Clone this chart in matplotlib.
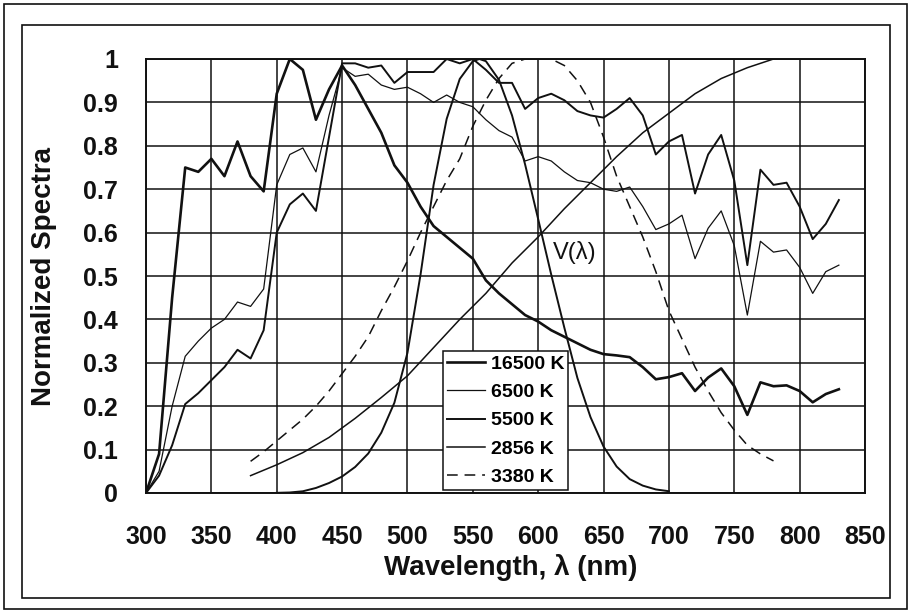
"""
Normalized spectra of several light sources (16500 K, 6500 K, 5500 K,
2856 K, 3380 K) together with the photopic luminosity function V(lambda).
"""

import matplotlib
matplotlib.use('Agg')
import matplotlib.pyplot as plt
from matplotlib.patches import Rectangle

plt.rcParams['font.family'] = ['Liberation Sans', 'DejaVu Sans']

# Wavelength grid (nm) of the daylight-type spectra
WL_FULL = list(range(300, 840, 10))

SPEC_16500 = [0.0, 0.09, 0.45, 0.75, 0.74, 0.77, 0.73, 0.81, 0.73, 0.695,
              0.92, 1.0, 0.975, 0.86, 0.93, 0.985, 0.94, 0.885, 0.83, 0.755,
              0.715, 0.66, 0.615, 0.59, 0.565, 0.54, 0.49, 0.46, 0.435, 0.41,
              0.395, 0.375, 0.36, 0.345, 0.33, 0.32, 0.317, 0.313, 0.29, 0.262,
              0.267, 0.276, 0.235, 0.266, 0.287, 0.246, 0.18, 0.255, 0.246, 0.248,
              0.235, 0.209, 0.228, 0.239]

SPEC_6500 = [0.0, 0.05, 0.2, 0.315, 0.35, 0.38, 0.40, 0.44, 0.43, 0.47,
             0.71, 0.78, 0.795, 0.74, 0.87, 0.98, 0.96, 0.965, 0.94, 0.93,
             0.935, 0.92, 0.90, 0.917, 0.90, 0.89, 0.86, 0.835, 0.82, 0.765,
             0.775, 0.765, 0.74, 0.72, 0.715, 0.70, 0.695, 0.705, 0.66, 0.607,
             0.62, 0.64, 0.54, 0.61, 0.65, 0.57, 0.41, 0.58, 0.555, 0.56,
             0.52, 0.46, 0.51, 0.525]

SPEC_5500 = [0.0, 0.04, 0.11, 0.205, 0.23, 0.26, 0.29, 0.33, 0.31, 0.375,
             0.60, 0.665, 0.69, 0.65, 0.82, 0.99, 0.99, 0.98, 0.985, 0.945,
             0.97, 0.97, 0.97, 1.0, 0.99, 1.0, 0.975, 0.945, 0.945, 0.885,
             0.91, 0.92, 0.905, 0.88, 0.87, 0.865, 0.885, 0.91, 0.87, 0.78,
             0.81, 0.825, 0.69, 0.78, 0.825, 0.72, 0.525, 0.745, 0.71, 0.715,
             0.66, 0.585, 0.62, 0.675]

WL_2856 = list(range(380, 800, 20))
SPEC_2856 = [0.04, 0.065, 0.093, 0.128, 0.172, 0.22, 0.27, 0.335, 0.40, 0.46,
             0.53, 0.59, 0.655, 0.715, 0.775, 0.83, 0.875, 0.92, 0.955, 0.98, 1.0]

WL_3380 = list(range(380, 790, 10))
SPEC_3380 = [0.073, 0.095, 0.12, 0.145, 0.17, 0.2, 0.235, 0.275, 0.315, 0.36,
             0.42, 0.475, 0.535, 0.6, 0.66, 0.72, 0.77, 0.845, 0.905, 0.955,
             0.99, 1.0, 1.0, 1.0, 0.985, 0.95, 0.9, 0.82, 0.73, 0.66,
             0.59, 0.51, 0.42, 0.355, 0.29, 0.235, 0.185, 0.145, 0.11, 0.09, 0.074]

WL_V = [400, 410, 420, 430, 440, 450, 460, 470, 480, 490, 500, 510, 520, 530,
        540, 550, 555, 560, 570, 580, 590, 600, 610, 620, 630, 640, 650, 660,
        670, 680, 690, 700]
V_LAMBDA = [0.0004, 0.0012, 0.004, 0.0116, 0.023, 0.038, 0.06, 0.091, 0.139,
            0.208, 0.323, 0.503, 0.71, 0.862, 0.954, 0.995, 1.0, 0.995, 0.952,
            0.87, 0.757, 0.631, 0.503, 0.381, 0.265, 0.175, 0.107, 0.061, 0.032,
            0.017, 0.0082, 0.0041]

X_TICKS = list(range(300, 900, 50))
Y_TICKS = [0, 0.1, 0.2, 0.3, 0.4, 0.5, 0.6, 0.7, 0.8, 0.9, 1]
Y_TICK_LABELS = ["0", "0.1", "0.2", "0.3", "0.4", "0.5", "0.6", "0.7", "0.8", "0.9", "1"]

W, H = 912, 614
INK = "#111111"


def main() -> None:
    fig = plt.figure(figsize=(W / 100, H / 100), dpi=100)
    fig.patch.set_facecolor("white")

    # outer and inner border of the scanned figure
    fig.patches.append(Rectangle((4 / W, 1 - 609 / H), 903 / W, 605 / H,
                                 transform=fig.transFigure, fill=False,
                                 edgecolor=INK, linewidth=1.2))
    fig.patches.append(Rectangle((22 / W, 1 - 598 / H), 868 / W, 573 / H,
                                 transform=fig.transFigure, fill=False,
                                 edgecolor=INK, linewidth=1.2))

    ax = fig.add_axes([146 / W, 1 - 493 / H, (865 - 146) / W, (493 - 59) / H])

    ax.plot(WL_FULL, SPEC_16500, color=INK, linewidth=1.9, label="16500 K")
    ax.plot(WL_FULL, SPEC_6500, color=INK, linewidth=0.9, label="6500 K")
    ax.plot(WL_FULL, SPEC_5500, color=INK, linewidth=1.4, label="5500 K")
    ax.plot(WL_2856, SPEC_2856, color=INK, linewidth=1.1, label="2856 K")
    ax.plot(WL_3380, SPEC_3380, color=INK, linewidth=1.1, dashes=(7, 4.5),
            label="3380 K")
    ax.plot(WL_V, V_LAMBDA, color=INK, linewidth=1.4)

    ax.text(628, 0.553, "V(λ)", fontsize=17, ha="center", va="center", color=INK)

    ax.set_xlim(300, 850)
    ax.set_ylim(0, 1)
    ax.set_xticks(X_TICKS)
    ax.set_yticks(Y_TICKS)
    ax.set_yticklabels(Y_TICK_LABELS)
    ax.grid(True, color=INK, linewidth=1.1)
    ax.tick_params(length=0, labelsize=18, colors=INK)
    ax.tick_params(axis="x", pad=23)
    ax.tick_params(axis="y", pad=20)
    for lab in ax.get_xticklabels() + ax.get_yticklabels():
        lab.set_fontweight("bold")
    for sp in ax.spines.values():
        sp.set_linewidth(1.4)
        sp.set_color(INK)

    # axis titles placed in figure pixels
    fig.text(511 / W, 1 - 575 / H, "Wavelength, λ (nm)", fontsize=20,
             fontweight="bold", color=INK, ha="center", va="baseline")
    fig.text(44 / W, 1 - 276 / H, "Normalized Spectra", fontsize=20,
             fontweight="bold", color=INK, ha="center", va="center",
             rotation=90)

    leg = ax.legend(loc="lower right", bbox_to_anchor=(0.587, 0.007),
                    borderaxespad=0, fancybox=False, framealpha=1,
                    edgecolor=INK, handlelength=1.95,
                    handletextpad=0.3, labelspacing=0.55, borderpad=0.2,
                    prop={"weight": "bold", "size": 14})
    leg.get_frame().set_linewidth(1.1)

    fig.savefig("out.png", dpi=100, facecolor="white")
    plt.close(fig)


if __name__ == "__main__":
    main()
